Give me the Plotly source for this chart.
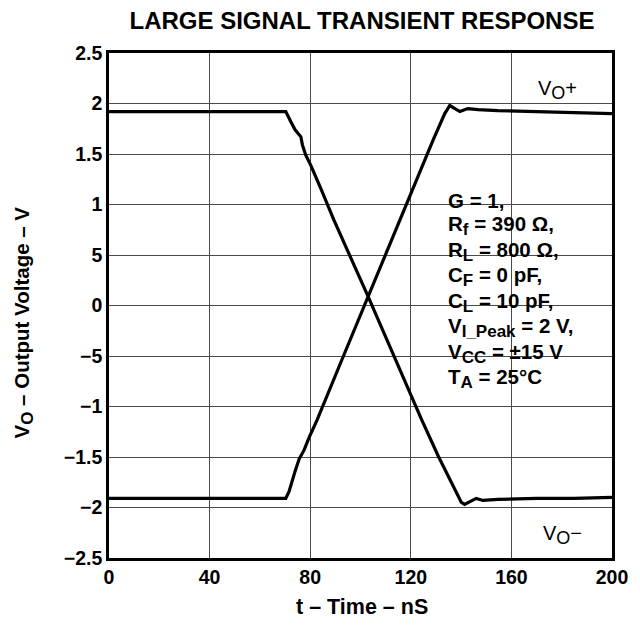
import plotly.graph_objects as go

# Data
t_fall = [0, 10, 20, 30, 40, 50, 60, 68, 70.3, 72.3, 74.0, 76.3, 76.9, 78.2, 80.2, 84.2, 89.4, 103, 113.8,
          124.3, 130.9, 136.1, 140.1, 141.4, 144, 146, 148.7, 154.6, 170, 185, 200]
v_fall = [1.92, 1.92, 1.92, 1.925, 1.92, 1.92, 1.92, 1.925, 1.92, 1.82, 1.74, 1.67, 1.59, 1.49, 1.39, 1.16,
          0.847, 0.09, -0.537, -1.13, -1.49, -1.755, -1.95, -1.97, -1.94, -1.91, -1.93, -1.92, -1.91, -1.91, -1.90]

t_rise = [0, 10, 20, 30, 40, 50, 60, 68, 70.3, 71.6, 72.7, 74.0, 75.6, 77.6, 79.5, 82.8, 92.6, 103, 115.8,
          120.3, 128.9, 133.5, 135.5, 139.5, 142.7, 146.7, 154.6, 170, 185, 200]
v_rise = [-1.91, -1.91, -1.915, -1.91, -1.91, -1.91, -1.915, -1.91, -1.91, -1.84, -1.74, -1.64, -1.52, -1.43,
          -1.31, -1.13, -0.537, 0.09, 0.847, 1.13, 1.64, 1.90, 1.98, 1.92, 1.95, 1.94, 1.93, 1.92, 1.91, 1.90]

x_ticks = [0, 40, 80, 120, 160, 200]
y_ticks = [-2.5, -2, -1.5, -1, -0.5, 0, 0.5, 1, 1.5, 2, 2.5]
y_tick_text = ["\u22122.5", "\u22122", "\u22121.5", "\u22121", "\u22125", "0", "5", "1", "1.5", "2", "2.5"]


def sub(s, size=17):
    return f"<sub><span style='font-size:{size}px'>{s}</span></sub>"


cond_lines = ["G = 1,", "R" + sub("f") + " = 390 \u03a9,", "R" + sub("L") + " = 800 \u03a9,",
              "C" + sub("F") + " = 0 pF,", "C" + sub("L") + " = 10 pF,", "V" + sub("I_Peak") + " = 2 V,",
              "V" + sub("CC") + " = \u00b115 V", "T" + sub("A") + " = 25\u00b0C"]

FONT = "Liberation Sans, Arial, sans-serif"
OFF = 8  # default page body margin
W, H = 640 - OFF, 627 - OFF
PL, PR, PT, PB = 109, 615, 53, 558   # plot area in page pixels
L, R, T, B = PL - OFF, W - (PR - OFF), PT - OFF, H - (PB - OFF)


def py(pix):
    return (PB - pix) / (PB - PT)


def px(pix):
    return (pix - PL) / (PR - PL)


fig = go.Figure()
for tt, vv in [(t_fall, v_fall), (t_rise, v_rise)]:
    fig.add_trace(go.Scatter(x=tt, y=vv, mode="lines", line=dict(color="black", width=3.2),
                             showlegend=False, hoverinfo="skip"))

annotations = []
ys = [200, 225.5, 251, 276.5, 302, 327.5, 353, 378.5]
for txt, yy in zip(cond_lines, ys):
    annotations.append(dict(text="<b>" + txt + "</b>", xref="paper", yref="paper", x=px(448), y=py(yy),
                            xanchor="left", yanchor="middle", showarrow=False,
                            font=dict(family=FONT, size=20.5, color="black")))
annotations.append(dict(text="V" + sub("O", 18) + "+", xref="paper", yref="paper", x=px(560), y=py(90),
                        xanchor="center", yanchor="middle", showarrow=False,
                        font=dict(family=FONT, size=20, color="black")))
annotations.append(dict(text="V" + sub("O", 18) + "\u2212", xref="paper", yref="paper", x=px(565), y=py(535),
                        xanchor="center", yanchor="middle", showarrow=False,
                        font=dict(family=FONT, size=20, color="black")))
annotations.append(dict(text="<b>t \u2013 Time \u2013 nS</b>", xref="paper", yref="paper", x=px(364), y=py(607),
                        xanchor="center", yanchor="middle", showarrow=False,
                        font=dict(family=FONT, size=21.5, color="black")))
annotations.append(dict(text="<b>V" + sub("O", 17) + " \u2013 Output Voltage \u2013 V</b>", xref="paper",
                        yref="paper", x=px(22), y=py(323), xanchor="center", yanchor="middle", textangle=-90,
                        showarrow=False, font=dict(family=FONT, size=20.5, color="black")))

fig.update_layout(
    width=W, height=H,
    margin=dict(l=L, r=R, t=T, b=B),
    paper_bgcolor="white", plot_bgcolor="white",
    title=dict(text="<b>LARGE SIGNAL TRANSIENT RESPONSE</b>", x=(362 - OFF) / W, xanchor="center",
               y=1 - (21 - OFF) / H, yanchor="middle", yref="container",
               font=dict(family=FONT, size=24, color="black")),
    annotations=annotations,
    shapes=[dict(type="rect", xref="paper", yref="paper", x0=px(441), x1=px(609), y0=py(390), y1=py(184),
                 fillcolor="white", line=dict(width=0), layer="below")],
    xaxis=dict(range=[0, 200], tickvals=x_ticks, ticktext=[f"<b>{v}</b>" for v in x_ticks],
               showgrid=True, gridcolor="#4a4a4a", gridwidth=1, zeroline=False,
               showline=True, linecolor="black", linewidth=2.5, mirror=True, ticks="",
               tickfont=dict(family=FONT, size=19.5, color="black")),
    yaxis=dict(range=[-2.5, 2.5], tickvals=y_ticks, ticktext=[f"<b>{t}</b>" for t in y_tick_text],
               showgrid=True, gridcolor="#4a4a4a", gridwidth=1, zeroline=False,
               showline=True, linecolor="black", linewidth=2.5, mirror=True, ticks="",
               tickfont=dict(family=FONT, size=19.5, color="black")),
)

fig.write_html("out.html")
